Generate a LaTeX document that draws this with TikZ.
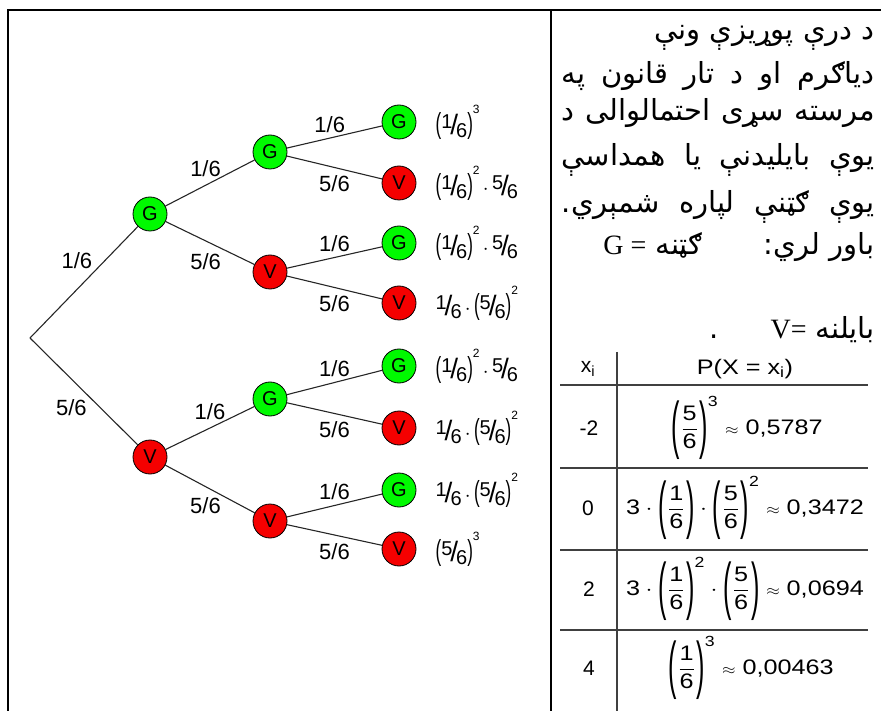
\documentclass[tikz,border=0pt]{standalone}
\usepackage{fontspec}
\usepackage{amsmath}
\usepackage{graphicx}
\setmainfont{Liberation Sans}
\newfontfamily\pashto[Script=Arabic]{DejaVu Sans}
\newfontfamily\timesfont{Liberation Serif}
\TeXXeTstate=1
\usetikzlibrary{positioning}

\newcommand{\sfr}[2]{\raisebox{5pt}{#1}\kern-2pt\raisebox{-1.5pt}{\fontsize{28}{28}\selectfont/}\kern-2pt\raisebox{-4pt}{#2}}
\newcommand{\tpar}[1]{\scalebox{0.85}[1.45]{#1}}
\newcommand{\pw}[1]{\raisebox{1.0em}{\fontsize{12}{12}\selectfont#1}}
\newcommand{\fr}[2]{\dfrac{\text{#1}}{\text{#2}}}
\newcommand{\pl}{\raisebox{-12pt}{\scalebox{1}[3]{(}}\mkern1mu}
\newcommand{\pr}{\mkern1mu\raisebox{-12pt}{\scalebox{1}[3]{)}}}
\newcommand{\wide}[1]{\scalebox{1.2}[1]{#1}}
\newcommand{\apx}{\mathrel{\scriptstyle\approx}}
\newcommand{\jline}[1]{\makebox[313pt][s]{#1}}

\begin{document}
\begin{tikzpicture}
    [x=1pt,y=-1pt,
gnode/.style={circle, draw=black, fill={rgb,255:red,0;green,250;blue,0}, thick, minimum size=34pt, inner sep=0pt, font=\fontsize{20}{20}\selectfont},
vnode/.style={circle, draw=black, fill={rgb,255:red,245;green,0;blue,0}, thick, minimum size=34pt, inner sep=0pt, font=\fontsize{20}{20}\selectfont},
branch/.style={draw=black!85, line width=1.1pt},
lbl/.style={font=\fontsize{22}{22}\selectfont, inner sep=2pt},
expr/.style={font=\fontsize{20}{20}\selectfont, inner sep=0pt, anchor=west},
ps/.style={font=\pashto\fontsize{29}{29}\selectfont, inner sep=0pt, anchor=east},
frame/.style={line width=2.5pt, black},
tabline/.style={line width=1.3pt, black!75},
cell/.style={font=\fontsize{21}{21}\selectfont, inner sep=0pt}
]

\useasboundingbox (0,0) rectangle (881,711);

\draw[frame] (8,711) -- (8,10) -- (881,10);
\draw[frame] (551,10) -- (551,711);

\coordinate (root) at (30,338);
\node[gnode] (g) at (150,214) {G};
\node[vnode] (v) at (150,457) {V};
\node[gnode] (gg) at (270,152) {G};
\node[vnode] (gv) at (270,272) {V};
\node[gnode] (vg) at (270,399) {G};
\node[vnode] (vv) at (270,521) {V};
\node[gnode] (ggg) at (399,122) {G};
\node[vnode] (ggv) at (399,183) {V};
\node[gnode] (gvg) at (399,243) {G};
\node[vnode] (gvv) at (399,303) {V};
\node[gnode] (vgg) at (399,366) {G};
\node[vnode] (vgv) at (399,428) {V};
\node[gnode] (vvg) at (399,490) {G};
\node[vnode] (vvv) at (399,549) {V};

\draw[branch] (root) to node[lbl,above left,pos=0.6] {1/6} (g);
\draw[branch] (root) to node[lbl,below left,pos=0.55] {5/6} (v);
\draw[branch] (g) to node[lbl,above,pos=0.45,yshift=6pt] {1/6} (gg);
\draw[branch] (g) to node[lbl,below,pos=0.45,yshift=-10pt] {5/6} (gv);
\draw[branch] (v) to node[lbl,above,pos=0.5,yshift=6pt] {1/6} (vg);
\draw[branch] (v) to node[lbl,below,pos=0.45,yshift=-8pt] {5/6} (vv);
\draw[branch] (gg) to node[lbl,above,pos=0.45,yshift=3pt] {1/6} (ggg);
\draw[branch] (gg) to node[lbl,below,pos=0.5,yshift=-6pt] {5/6} (ggv);
\draw[branch] (gv) to node[lbl,above,pos=0.5,yshift=3pt] {1/6} (gvg);
\draw[branch] (gv) to node[lbl,below,pos=0.5,yshift=-6pt] {5/6} (gvv);
\draw[branch] (vg) to node[lbl,above,pos=0.5,yshift=3pt] {1/6} (vgg);
\draw[branch] (vg) to node[lbl,below,pos=0.5,yshift=-6pt] {5/6} (vgv);
\draw[branch] (vv) to node[lbl,above,pos=0.5,yshift=3pt] {1/6} (vvg);
\draw[branch] (vv) to node[lbl,below,pos=0.5,yshift=-6pt] {5/6} (vvv);

\node[expr, right=19pt of ggg] (p1) {\tpar{(}\sfr{1}{6}\tpar{)}\pw{3}};
\node[expr, right=19pt of ggv] (p2) {\tpar{(}\sfr{1}{6}\tpar{)}\pw{2}\,$\cdot$\,\sfr{5}{6}};
\node[expr, right=19pt of gvg] (p3) {\tpar{(}\sfr{1}{6}\tpar{)}\pw{2}\,$\cdot$\,\sfr{5}{6}};
\node[expr, right=19pt of gvv] (p4) {\sfr{1}{6}\,$\cdot$\,\tpar{(}\sfr{5}{6}\tpar{)}\pw{2}};
\node[expr, right=19pt of vgg] (p5) {\tpar{(}\sfr{1}{6}\tpar{)}\pw{2}\,$\cdot$\,\sfr{5}{6}};
\node[expr, right=19pt of vgv] (p6) {\sfr{1}{6}\,$\cdot$\,\tpar{(}\sfr{5}{6}\tpar{)}\pw{2}};
\node[expr, right=19pt of vvg] (p7) {\sfr{1}{6}\,$\cdot$\,\tpar{(}\sfr{5}{6}\tpar{)}\pw{2}};
\node[expr, right=19pt of vvv] (p8) {\tpar{(}\sfr{5}{6}\tpar{)}\pw{3}};

\node[ps] (t1) at (875,38) {\beginR د درې پوړيزې ونې\endR};
\node[ps] (t2) at (875,76) {\jline{\beginR دياګرم  او د تار قانون په\endR}};
\node[ps] (t3) at (875,113) {\jline{\beginR مرسته سړی احتمالوالی د\endR}};
\node[ps] (t4) at (875,160) {\jline{\beginR يوې بايليدنې يا همداسې\endR}};
\node[ps] (t5) at (875,207) {\jline{\beginR يوې ګټنې لپاره شمېري.\endR}};
\node[ps] (t6) at (875,247) {\beginR باور لري:\hspace{2.1em}ګټنه {\timesfont\fontsize{28}{28}\selectfont = G}\endR};
\node[ps] (t7) at (875,330) {\beginR بايلنه {\timesfont\fontsize{28}{28}\selectfont V=}\hspace{1.8em}.\endR};

\draw[tabline] (617,352) -- (617,711);
\foreach \y in {385,468,550,630}
  \draw[tabline] (560,\y) -- (868,\y);

\node[cell] (xh) at (588,369) {x$_{\text{i}}$};
\node[cell] (ph) at (745,369) {\wide{P(X = x$_{\text{i}}$)}};
\node[cell] (x1) at (589,428) {-2};
\node[cell] (x2) at (588,508) {0};
\node[cell] (x3) at (589,589) {2};
\node[cell] (x4) at (589,668) {4};
\node[cell] (pr1) at (747,428) {\wide{$\pl\fr{5}{6}\pr^{\text{3}}\apx\text{0,5787}$}};
\node[cell] (pr2) at (745,508) {\wide{$\text{3}\cdot\pl\fr{1}{6}\pr\cdot\pl\fr{5}{6}\pr^{\text{2}}\apx\text{0,3472}$}};
\node[cell] (pr3) at (745,589) {\wide{$\text{3}\cdot\pl\fr{1}{6}\pr^{\text{2}}\cdot\pl\fr{5}{6}\pr\apx\text{0,0694}$}};
\node[cell] (pr4) at (751,668) {\wide{$\pl\fr{1}{6}\pr^{\text{3}}\apx\text{0,00463}$}};

\end{tikzpicture}
\end{document}
